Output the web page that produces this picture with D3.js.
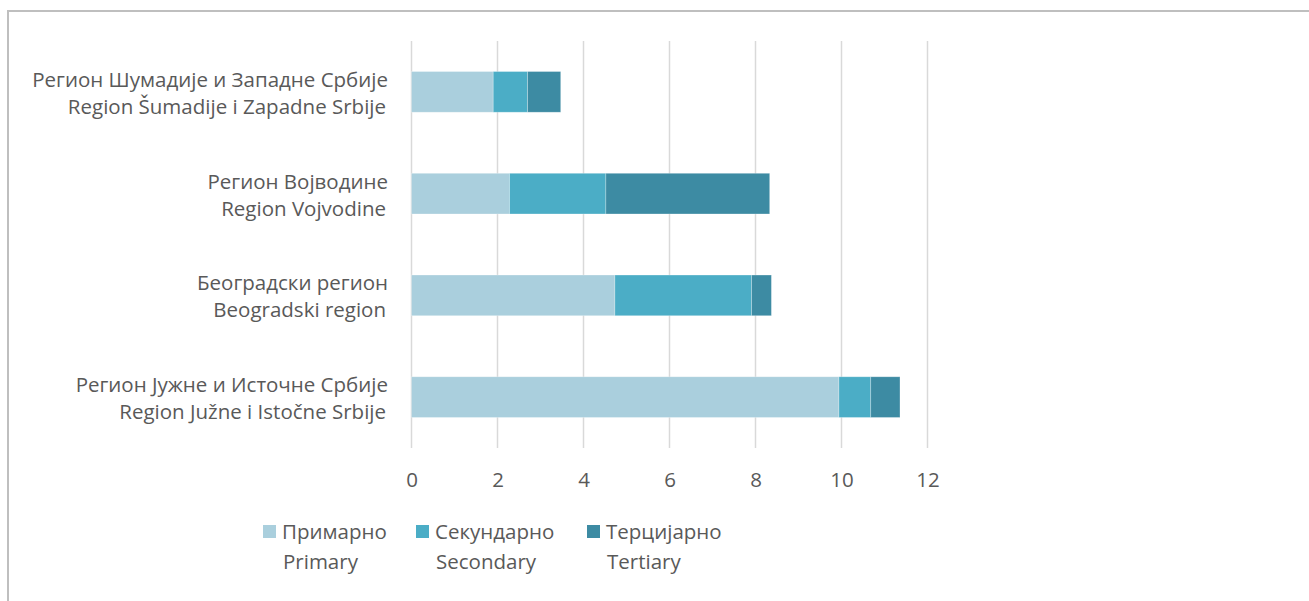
<!DOCTYPE html>
<html>
<head>
<meta charset="utf-8">
<script src="https://cdn.jsdelivr.net/npm/d3@7"></script>
<style>
  html, body { margin: 0; padding: 0; background: #fff; }
  svg { display: block; font-family: "Open Sans", "Noto Sans", sans-serif; }
</style>
</head>
<body>
<svg id="chart" width="1309" height="601"></svg>
<script>
// Regions (Cyrillic / Latin), listed top to bottom
const regionsCyr = [
  "Регион Шумадије и Западне Србије",
  "Регион Војводине",
  "Београдски регион",
  "Регион Јужне и Источне Србије"
];
const regionsLat = [
  "Region Šumadije i Zapadne Srbije",
  "Region Vojvodine",
  "Beogradski region",
  "Region Južne i Istočne Srbije"
];

// Sector values per region
const primary   = [1.90, 2.28, 4.73, 9.94];
const secondary = [0.80, 2.24, 3.18, 0.74];
const tertiary  = [0.77, 3.81, 0.46, 0.68];

const seriesCyr = ["Примарно", "Секундарно", "Терцијарно"];
const seriesLat = ["Primary", "Secondary", "Tertiary"];
const colors = ["#aacfdd", "#4badc6", "#3d8ba3"];

const xTicks = [0, 2, 4, 6, 8, 10, 12];

const svg = d3.select("#chart");
const textColor = "#595959";
const fontSize = "20.5px";

// Frame lines
svg.append("line").attr("x1", 8).attr("x2", 1309).attr("y1", 11).attr("y2", 11)
  .attr("stroke", "#bfbfbf").attr("stroke-width", 2);
svg.append("line").attr("x1", 8).attr("x2", 8).attr("y1", 10).attr("y2", 601)
  .attr("stroke", "#bfbfbf").attr("stroke-width", 2);

const x = d3.scaleLinear().domain([0, 12]).range([411.5, 927.5]);
const y = d3.scaleBand().domain(d3.range(regionsCyr.length))
  .range([41, 448]).paddingInner(0.6).paddingOuter(0.3);

// Vertical gridlines
svg.append("g").selectAll("line").data(xTicks).join("line")
  .attr("x1", d => x(d)).attr("x2", d => x(d))
  .attr("y1", 41).attr("y2", 448)
  .attr("stroke", "#d9d9d9").attr("stroke-width", 1.5);

// Tick labels via the axis generator
const xAxis = svg.append("g").attr("transform", "translate(0,448)")
  .call(d3.axisBottom(x).tickValues(xTicks).tickSize(0).tickPadding(24));
xAxis.select(".domain").remove();
xAxis.selectAll("text").attr("fill", textColor)
  .style("font-size", fontSize).style("font-family", "\"Open Sans\", \"Noto Sans\", sans-serif");

// Stacked bars
const rows = regionsCyr.map((r, i) => ({ primary: primary[i], secondary: secondary[i], tertiary: tertiary[i] }));
const stack = d3.stack().keys(["primary", "secondary", "tertiary"])(rows);

svg.append("g").selectAll("g").data(stack).join("g")
  .attr("fill", (d, i) => colors[i])
  .selectAll("rect").data(d => d).join("rect")
  .attr("x", d => x(d[0]))
  .attr("width", d => x(d[1]) - x(d[0]))
  .attr("y", (d, i) => y(i))
  .attr("height", y.bandwidth())
  .attr("stroke", "rgba(255,255,255,0.35)")
  .attr("stroke-width", 0.75);

// Category labels (two lines)
const cat = svg.append("g").selectAll("text").data(d3.range(regionsCyr.length)).join("text")
  .attr("text-anchor", "end")
  .attr("fill", textColor)
  .style("font-size", fontSize);
cat.append("tspan").attr("x", 388).attr("y", i => y(i) + y.bandwidth() / 2 - 5)
  .text(i => regionsCyr[i]);
cat.append("tspan").attr("x", 386).attr("y", i => y(i) + y.bandwidth() / 2 + 22)
  .text(i => regionsLat[i]);

// Legend
const legendX = [263, 416, 587];
const lg = svg.append("g").selectAll("g").data(seriesCyr).join("g")
  .attr("transform", (d, i) => `translate(${legendX[i]},0)`);
lg.append("rect").attr("x", 0).attr("y", 525).attr("width", 13).attr("height", 13)
  .attr("fill", (d, i) => colors[i]);
lg.append("text").attr("x", 19).attr("y", 539).attr("fill", textColor)
  .style("font-size", fontSize).text(d => d);
lg.append("text").attr("x", 20).attr("y", 569).attr("fill", textColor)
  .style("font-size", fontSize).text((d, i) => seriesLat[i]);
</script>
</body>
</html>
